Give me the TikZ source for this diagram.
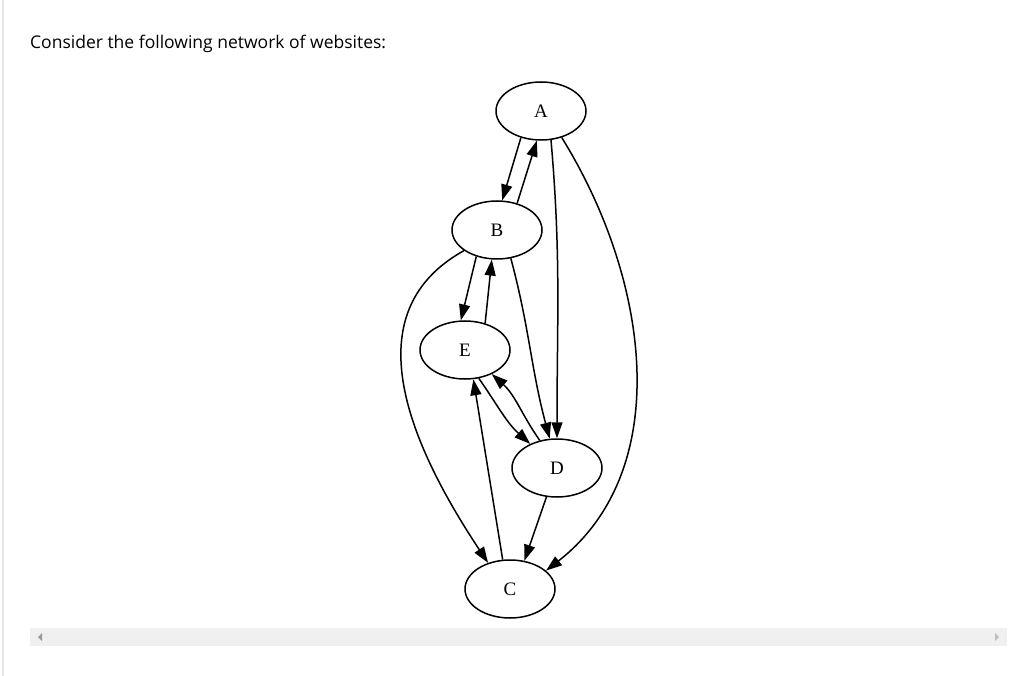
\documentclass[tikz,border=0pt]{standalone}
\usepackage{fontspec}
\setmainfont{Liberation Serif}
\newfontfamily\pagefont{Open Sans}
\usetikzlibrary{arrows.meta,shapes.geometric}
\begin{document}
\begin{tikzpicture}[x=1pt,y=-1pt,
% common options for the sites:
site/.style = {ellipse, draw, line width=1.5pt, minimum width=90pt, minimum height=58pt,
            inner sep=0, font=\fontsize{19}{19}\selectfont},
% common options for the links:
link/.style = {draw, line width=1.5pt, -{Triangle[length=16pt,width=11pt]}}]
\useasboundingbox (0,0) rectangle (1031,676);
\fill[white] (0,0) rectangle (1031,676);
\draw[black!10,line width=1.5pt] (3,0) -- (3,676);

% heading
\node[anchor=base west,inner sep=0,font=\pagefont\fontsize{17.5}{17.5}\selectfont] (head) at (30,49) {Consider the following network of websites:};

% sites
\node[site] (A) at (541,111) {A};
\node[site] (B) at (497,230) {B};
\node[site] (E) at (465,350) {E};
\node[site] (D) at (557,468) {D};
\node[site] (C) at (510,589) {C};

% links
\path[link] (A.233) -- (B.80);
\path[link] (B.53) -- (A.262);
\path[link] (A.289) to[out=-85,in=90] (D.90);
\path[link] (A.308) .. controls (650,280) and (675,470) .. (C.27);
\path[link] (B.212) .. controls (375,300) and (380,400) .. (C.130);
\path[link] (B.232) -- (E.98);
\path[link] (E.53) -- (B.260);
\path[link] (B.296) to[out=-75,in=105] (D.104);
\path[link] (E.296) to[out=-55,in=138] (D.138);
\path[link] (D.122) to[out=125,in=-42] (E.318);
\path[link] (D.250) -- (C.63);
\path[link] (C.104) -- (E.286);

% scroll bar
\fill[black!6] (30,628) rectangle (1007,646);
\fill[black!40] (42,633) -- (38,637) -- (42,641) -- cycle;
\fill[black!25] (995,633) -- (999,637) -- (995,641) -- cycle;
\end{tikzpicture}
\end{document}
